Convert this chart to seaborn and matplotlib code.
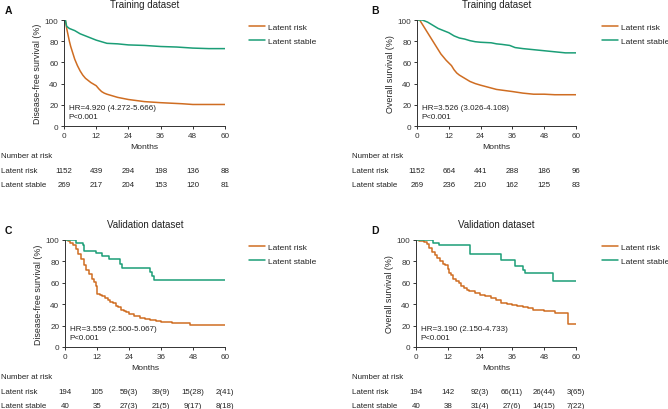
import matplotlib
matplotlib.use("Agg")
import matplotlib.pyplot as plt
import matplotlib.transforms as mtransforms
from matplotlib.lines import Line2D
import pandas as pd
import seaborn as sns

# ── Data ─────────────────────────────────────────────────────
month_ticks = [0, 12, 24, 36, 48, 60]
surv_ticks = [0, 20, 40, 60, 80, 100]
groups = ["Latent risk", "Latent stable"]

# A: disease-free survival, training set
a_risk_t = [0, 0.5, 1, 1.5, 2, 2.5, 3, 3.5, 4, 5, 6, 7, 8, 9, 10, 11, 12, 13, 14, 15,
            16, 18, 20, 22, 24, 27, 30, 33, 36, 40, 44, 48, 52, 56, 60]
a_risk_s = [100, 100, 92, 86, 80, 75, 71, 67, 63, 57, 52, 48, 45, 43, 41, 39.5, 38, 35, 32.5, 31,
            30, 28.5, 27, 26, 25, 24, 23, 22.5, 22, 21.5, 21, 20.3, 20.3, 20.3, 20.3]
a_stable_t = [0, 0.5, 1, 2, 3, 4, 5, 6, 8, 10, 12, 14, 16, 20, 24, 30, 36, 42, 48, 54, 60]
a_stable_s = [100, 100, 94, 92, 91, 90, 88.5, 87, 85, 83, 81, 79.5, 78, 77.5, 76.5, 76, 75, 74.5, 73.5, 73, 73]

# B: overall survival, training set
b_risk_t = [0, 1, 2, 3, 4, 5, 6, 7, 8, 9, 10, 11, 12, 13, 14, 15, 16, 18, 20, 22, 24, 27, 30,
            33, 36, 40, 44, 48, 52, 56, 60]
b_risk_s = [100, 100, 96, 92, 88, 84, 80, 76, 72, 68, 65, 62, 59.5, 57, 53, 50, 48, 45, 42, 40,
            38.5, 36.5, 34.5, 33.5, 32.5, 31, 30, 30, 29.5, 29.5, 29.5]
b_stable_t = [0, 2, 3, 4, 5, 6, 8, 10, 12, 14, 16, 18, 20, 22, 24, 28, 30, 32, 35, 37, 40, 44,
              48, 52, 56, 60]
b_stable_s = [100, 100, 99, 98, 96.5, 95, 92, 90, 88, 85, 83, 82, 80.5, 79.5, 79, 78.5, 77.5,
              77, 76, 74, 73, 72, 71, 70, 69, 69]

# C: disease-free survival, validation set
c_risk_t = [0, 1, 2, 3, 4, 5, 6, 7, 8, 9, 10, 11, 11.5, 12, 13, 14, 15, 16, 17, 18, 19, 20, 21,
            22, 23, 24, 26, 28, 30, 32, 34, 36, 38, 40, 43, 47, 60]
c_risk_s = [100, 99, 97.5, 95, 92, 87, 82, 77, 72, 68, 64, 61, 57, 50, 49, 47.5, 46, 44, 42, 41,
            38.5, 37, 35, 33.5, 32.5, 31, 29, 27.5, 26.5, 25.5, 24.5, 23.5, 23, 22.5, 22, 20.3, 20.3]
c_stable_t = [0, 4.2, 6.6, 7.2, 11.8, 14, 16.5, 20.5, 21.2, 32, 32.6, 33.2, 60]
c_stable_s = [100, 97.5, 95, 90, 87.5, 85, 82, 78, 74, 70, 66, 63, 63]

# D: overall survival, validation set
d_risk_t = [0, 1, 2, 3, 4, 5, 6, 7, 8, 9, 10, 11, 12, 12.5, 13, 14, 15, 16, 17, 18, 19, 20, 22,
            24, 26, 28, 30, 32, 34, 36, 38, 40, 42, 44, 46, 48, 50, 52, 57, 60]
d_risk_s = [100, 99.5, 99, 98, 96, 92.5, 89, 86, 83, 80, 78, 77, 73, 69, 67, 64, 62, 60, 57, 55,
            53, 52, 50.5, 49, 48, 46, 43.5, 41, 40, 39, 38, 37, 36, 35, 34.5, 34, 34, 31.5, 21.5, 21.5]
d_stable_t = [0, 6.5, 8.8, 20.2, 32, 37, 40, 41, 51.5, 60]
d_stable_s = [100, 97.5, 95, 87, 81, 76, 72, 69, 61.5, 61.5]

# Number at risk tables
a_at_risk = [["1152", "439", "294", "198", "136", "88"],
             ["269", "217", "204", "153", "120", "81"]]
b_at_risk = [["1152", "664", "441", "288", "186", "96"],
             ["269", "236", "210", "162", "125", "83"]]
c_at_risk = [["194", "105", "59(3)", "39(9)", "15(28)", "2(41)"],
             ["40", "35", "27(3)", "21(5)", "9(17)", "8(18)"]]
d_at_risk = [["194", "142", "92(3)", "66(11)", "26(44)", "3(65)"],
             ["40", "38", "31(4)", "27(6)", "14(15)", "7(22)"]]

hr_labels = ["HR=4.920 (4.272-5.666)", "HR=3.526 (3.026-4.108)",
             "HR=3.559 (2.500-5.067)", "HR=3.190 (2.150-4.733)"]
titles = ["Training dataset", "Training dataset", "Validation dataset", "Validation dataset"]
ylabels = ["Disease-free survival (%)", "Overall survival (%)",
           "Disease-free survival (%)", "Overall survival (%)"]
letters = ["A", "B", "C", "D"]

# ── Style ────────────────────────────────────────────────────
sns.set_theme(style="ticks")
plt.rcParams["font.family"] = ["Liberation Sans", "DejaVu Sans"]
plt.rcParams["axes.edgecolor"] = "#333333"
plt.rcParams["xtick.color"] = "#333333"
plt.rcParams["ytick.color"] = "#333333"
palette = {"Latent risk": "#cf6d22", "Latent stable": "#1b9e77"}
text_col = "#222222"

W, H = 668, 410
fig = plt.figure(figsize=(W / 100, H / 100), dpi=100)


def fx(px):
    return px / W


def fy(py):
    return 1 - py / H


# axes boxes in pixels: left, top, right, bottom
boxes = [(64, 21, 225, 127), (417, 21, 576, 127), (65, 241, 225, 348), (416, 241, 576, 348)]
curves = [(a_risk_t, a_risk_s, a_stable_t, a_stable_s),
          (b_risk_t, b_risk_s, b_stable_t, b_stable_s),
          (c_risk_t, c_risk_s, c_stable_t, c_stable_s),
          (d_risk_t, d_risk_s, d_stable_t, d_stable_s)]
tables = [a_at_risk, b_at_risk, c_at_risk, d_at_risk]
# large training cohorts look smooth, validation cohorts show steps
styles = ["default", "default", "steps-post", "steps-post"]

for i in range(4):
    l, t, r, b = boxes[i]
    ax = fig.add_axes([fx(l), fy(b), (r - l) / W, (b - t) / H])
    rt, rs, st, ss = curves[i]
    df = pd.concat([
        pd.DataFrame({"Months": rt, "Survival": rs, "group": groups[0]}),
        pd.DataFrame({"Months": st, "Survival": ss, "group": groups[1]}),
    ])
    sns.lineplot(data=df, x="Months", y="Survival", hue="group", palette=palette,
                 estimator=None, drawstyle=styles[i], linewidth=1.1, legend=False, ax=ax)

    ax.set_xlim(0, 60)
    ax.set_ylim(0, 100)
    ax.set_xticks(month_ticks)
    ax.set_yticks(surv_ticks)
    ax.tick_params(labelsize=5.9, length=2.5, width=0.7, pad=1.5)
    for sp in ["left", "bottom"]:
        ax.spines[sp].set_linewidth(0.7)
    sns.despine(ax=ax)
    ax.set_xlabel("Months", fontsize=6.1, labelpad=3)
    ax.set_ylabel(ylabels[i], fontsize=6.4, labelpad=2)

    ax.text(0.03, 0.17, hr_labels[i], transform=ax.transAxes, fontsize=5.8, color=text_col,
            va="center")
    ax.text(0.03, 0.085, "P<0.001", transform=ax.transAxes, fontsize=5.8, color=text_col,
            va="center")

    # panel letter and title placed in figure pixels
    letter_x = 5 if l < 300 else 371
    fig.text(fx(letter_x), fy(t - 10), letters[i], fontsize=7.5, fontweight="bold",
             va="center", ha="left", color="#111111")
    fig.text(fx((l + r) / 2), fy(t - 16), titles[i], fontsize=7, ha="center", va="center",
             color=text_col)

    # legend
    leg_x = 249 if l < 300 else 602
    handles = [Line2D([], [], color=palette[g], lw=1.1) for g in groups]
    ax.legend(handles, groups, loc="upper left", frameon=False, fontsize=6,
              bbox_to_anchor=(fx(leg_x), fy(t + 3)), bbox_transform=fig.transFigure,
              borderaxespad=0, borderpad=0, handlelength=1.9, handletextpad=0.4,
              labelspacing=0.75, labelcolor=text_col)

    # number at risk table
    row_x = 0 if l < 300 else 351
    blend = mtransforms.blended_transform_factory(ax.transData, fig.transFigure)
    fig.text(fx(row_x + 1), fy(b + 29.5), "Number at risk", fontsize=5.7, va="center",
             color=text_col)
    for j, g in enumerate(groups):
        yy = b + 44.5 + j * 14.3
        fig.text(fx(row_x + 1), fy(yy), g, fontsize=5.7, va="center", color=text_col)
        for k, m in enumerate(month_ticks):
            ax.text(m, fy(yy), tables[i][j][k], transform=blend, fontsize=5.7,
                    ha="center", va="center", color=text_col)

fig.savefig("out.png", dpi=100)
